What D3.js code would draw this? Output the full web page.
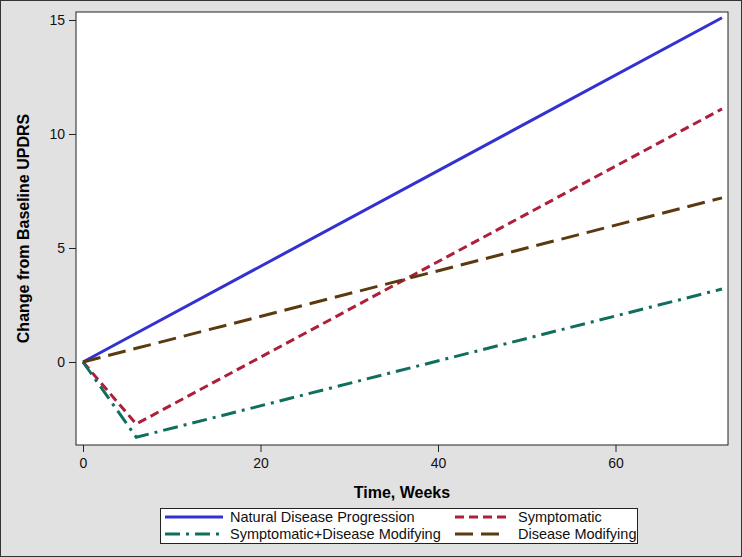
<!DOCTYPE html>
<html>
<head>
<meta charset="utf-8">
<script src="https://cdn.jsdelivr.net/npm/d3@7"></script>
<style>
  body { margin: 0; background: #fff; }
  svg { display: block; font-family: "Liberation Sans", Arial, sans-serif; }
</style>
</head>
<body>
<div id="chart"></div>
<script>
// weeks at which each scenario is evaluated
const weeks = [0, 6, 72];
const natural = [0, 1.26, 15.1];
const symptomatic = [0, -2.72, 11.1];
const combined = [0, -3.3, 3.2];
const modifying = [0, 0.6, 7.2];

const xTicks = [0, 20, 40, 60];
const yTicks = [0, 5, 10, 15];

const series = [
  { name: 'Natural Disease Progression', values: natural, color: '#3232d2', dash: null },
  { name: 'Symptomatic', values: symptomatic, color: '#ad1f3a', dash: '9,5' },
  { name: 'Symptomatic+Disease Modifying', values: combined, color: '#0f6e5e', dash: '15,6,3,6' },
  { name: 'Disease Modifying', values: modifying, color: '#5b3a0f', dash: '18,8' }
];

const width = 742;
const height = 557;
const plot = { left: 76, top: 12, right: 728, bottom: 445 };

const svg = d3.select('#chart')
  .append('svg')
  .attr('width', width)
  .attr('height', height);

svg.append('rect')
  .attr('x', 0.5).attr('y', 0.5)
  .attr('width', width - 1).attr('height', height - 1)
  .attr('fill', '#e1e1e1')
  .attr('stroke', '#333');

svg.append('rect')
  .attr('x', plot.left).attr('y', plot.top)
  .attr('width', plot.right - plot.left).attr('height', plot.bottom - plot.top)
  .attr('fill', '#fff');

const xScale = d3.scaleLinear().domain([0, 72]).range([83, 722]);
const yScale = d3.scaleLinear().domain([0, 15]).range([362, 20]);

const xAxis = svg.append('g')
  .attr('transform', `translate(0, ${plot.bottom})`)
  .call(d3.axisBottom(xScale).tickValues(xTicks).tickSize(7).tickPadding(6));

const yAxis = svg.append('g')
  .attr('transform', `translate(${plot.left}, 0)`)
  .call(d3.axisLeft(yScale).tickValues(yTicks).tickSize(7).tickPadding(4));

[xAxis, yAxis].forEach(g => {
  g.select('.domain').remove();
  g.selectAll('text').attr('font-size', 14).attr('fill', '#111')
    .attr('font-family', '"Liberation Sans", Arial, sans-serif');
  g.selectAll('line').attr('stroke', '#222');
});

const line = d3.line()
  .x((d, i) => xScale(weeks[i]))
  .y(d => yScale(d));

svg.append('g')
  .selectAll('path')
  .data(series)
  .join('path')
  .attr('d', d => line(d.values))
  .attr('fill', 'none')
  .attr('stroke', d => d.color)
  .attr('stroke-width', 3)
  .attr('stroke-dasharray', d => d.dash);

// plot frame on top
svg.append('rect')
  .attr('x', plot.left).attr('y', plot.top)
  .attr('width', plot.right - plot.left).attr('height', plot.bottom - plot.top)
  .attr('fill', 'none')
  .attr('stroke', '#222');

svg.append('text')
  .attr('x', (plot.left + plot.right) / 2)
  .attr('y', 498)
  .attr('text-anchor', 'middle')
  .attr('font-size', 16)
  .attr('font-weight', 'bold')
  .text('Time, Weeks');

svg.append('text')
  .attr('transform', `translate(29, ${(plot.top + plot.bottom) / 2}) rotate(-90)`)
  .attr('text-anchor', 'middle')
  .attr('font-size', 16)
  .attr('font-weight', 'bold')
  .text('Change from Baseline UPDRS');

// legend
const legend = svg.append('g');
legend.append('rect')
  .attr('x', 160.5).attr('y', 508.5)
  .attr('width', 477).attr('height', 35)
  .attr('fill', '#fff')
  .attr('stroke', '#222');

const legendPos = [
  { x: 165, y: 517 },
  { x: 455, y: 517 },
  { x: 165, y: 534 },
  { x: 455, y: 534 }
];

series.forEach((s, i) => {
  const p = legendPos[i];
  const len = i % 2 === 0 ? 58 : 52;
  legend.append('line')
    .attr('x1', p.x).attr('x2', p.x + len)
    .attr('y1', p.y).attr('y2', p.y)
    .attr('stroke', s.color)
    .attr('stroke-width', 3)
    .attr('stroke-dasharray', s.dash);
  legend.append('text')
    .attr('x', i % 2 === 0 ? 230 : 518)
    .attr('y', p.y + 5)
    .attr('font-size', 14.5)
    .attr('fill', '#111')
    .text(s.name);
});
</script>
</body>
</html>
